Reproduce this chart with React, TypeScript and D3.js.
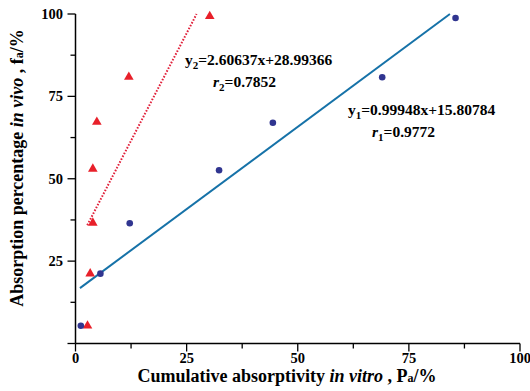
import React from "react";
import * as d3 from "d3";

const bluePoints: [number, number][] = [
  [1.2, 5.4], [5.6, 21.2], [12.2, 36.5], [32.3, 52.6], [44.4, 67.0], [69.0, 80.8], [85.5, 98.8],
];
const redPoints: [number, number][] = [
  [2.7, 5.4], [3.3, 21.2], [3.9, 36.6], [3.9, 53.0], [4.8, 67.2], [12.0, 80.9], [30.2, 99.3],
];
const fit1 = { slope: 0.99948, intercept: 15.80784, x0: 1.0 };
const fit2 = { slope: 2.60637, intercept: 28.99366, x0: 2.65 };
const majorTicks = [0, 25, 50, 75, 100];
const minorTicks = [12.5, 37.5, 62.5, 87.5];

const W = 530, H = 391;
const FONT = "'Liberation Serif', 'Times New Roman', serif";

export default function App() {
  const x = d3.scaleLinear().domain([0, 100]).range([75.5, 520]);
  const y = d3.scaleLinear().domain([0, 100]).range([343.5, 14]);
  const line = d3.line<[number, number]>().x(d => x(d[0])).y(d => y(d[1]));
  const fitLine = (f: typeof fit1) => {
    const x1 = (100 - f.intercept) / f.slope;
    return line([[f.x0, f.slope * f.x0 + f.intercept], [x1, 100]]);
  };
  const tri = d3.symbol().type(d3.symbolTriangle).size(40)();
  const x0 = x(0), y0 = y(0);
  return (
    <div style={{ position: "absolute", left: 0, top: 0 }}>
      <svg width={W} height={H} style={{ display: "block", background: "#fff" }} fontFamily={FONT}>
        {/* axes */}
        <line x1={x0} x2={x0} y1={y(100)} y2={y0} stroke="#000" strokeWidth={1.5} />
        <line x1={x0} x2={x(100)} y1={y0} y2={y0} stroke="#000" strokeWidth={1.5} />
        {majorTicks.map(t => (
          <g key={"xm" + t}>
            <line x1={x(t)} x2={x(t)} y1={y0} y2={y0 + 8} stroke="#000" strokeWidth={1.3} />
            <text x={x(t)} y={363} textAnchor="middle" fontSize={14.5} fontWeight="bold">{t}</text>
          </g>
        ))}
        {minorTicks.map(t => (
          <line key={"xn" + t} x1={x(t)} x2={x(t)} y1={y0} y2={y0 + 5} stroke="#000" strokeWidth={1.3} />
        ))}
        {majorTicks.map(t => (
          <g key={"ym" + t}>
            <line x1={x0 - 8} x2={x0} y1={y(t)} y2={y(t)} stroke="#000" strokeWidth={1.3} />
            {t > 0 && (
              <text x={63} y={y(t) + 5} textAnchor="end" fontSize={14.5} fontWeight="bold">{t}</text>
            )}
          </g>
        ))}
        {minorTicks.map(t => (
          <line key={"yn" + t} x1={x0 - 5} x2={x0} y1={y(t)} y2={y(t)} stroke="#000" strokeWidth={1.3} />
        ))}
        {/* axis titles */}
        <text x={287} y={382} textAnchor="middle" fontSize={18} fontWeight="bold">
          Cumulative absorptivity <tspan fontStyle="italic">in vitro</tspan> , P<tspan fontSize={12}>a</tspan>/%
        </text>
        <text transform="translate(23,168) rotate(-90)" textAnchor="middle" fontSize={18} fontWeight="bold">
          Absorption percentage <tspan fontStyle="italic">in vivo</tspan> , f<tspan fontSize={12}>a</tspan>/%
        </text>
        {/* fit lines */}
        <path d={fitLine(fit1) || ""} stroke="#1672a8" strokeWidth={2} fill="none" />
        <path d={fitLine(fit2) || ""} stroke="#e0203a" strokeWidth={2} strokeDasharray="1.6,1.6" fill="none" />
        {/* points */}
        {redPoints.map((p, i) => (
          <path key={"r" + i} d={tri || ""} transform={`translate(${x(p[0])},${y(p[1])})`} fill="#e8202a" />
        ))}
        {bluePoints.map((p, i) => (
          <circle key={"b" + i} cx={x(p[0])} cy={y(p[1])} r={3.3} fill="#303590" />
        ))}
        {/* annotations */}
        <text x={185} y={65} fontSize={15.5} fontWeight="bold">
          y<tspan fontSize={11} dy={4}>2</tspan><tspan dy={-4}>=2.60637x+28.99366</tspan>
        </text>
        <text x={213} y={87} fontSize={15.5} fontWeight="bold">
          <tspan fontStyle="italic">r</tspan><tspan fontSize={11} dy={4}>2</tspan><tspan dy={-4}>=0.7852</tspan>
        </text>
        <text x={348} y={115} fontSize={15.5} fontWeight="bold">
          y<tspan fontSize={11} dy={4}>1</tspan><tspan dy={-4}>=0.99948x+15.80784</tspan>
        </text>
        <text x={372} y={137} fontSize={15.5} fontWeight="bold">
          <tspan fontStyle="italic">r</tspan><tspan fontSize={11} dy={4}>1</tspan><tspan dy={-4}>=0.9772</tspan>
        </text>
      </svg>
    </div>
  );
}
